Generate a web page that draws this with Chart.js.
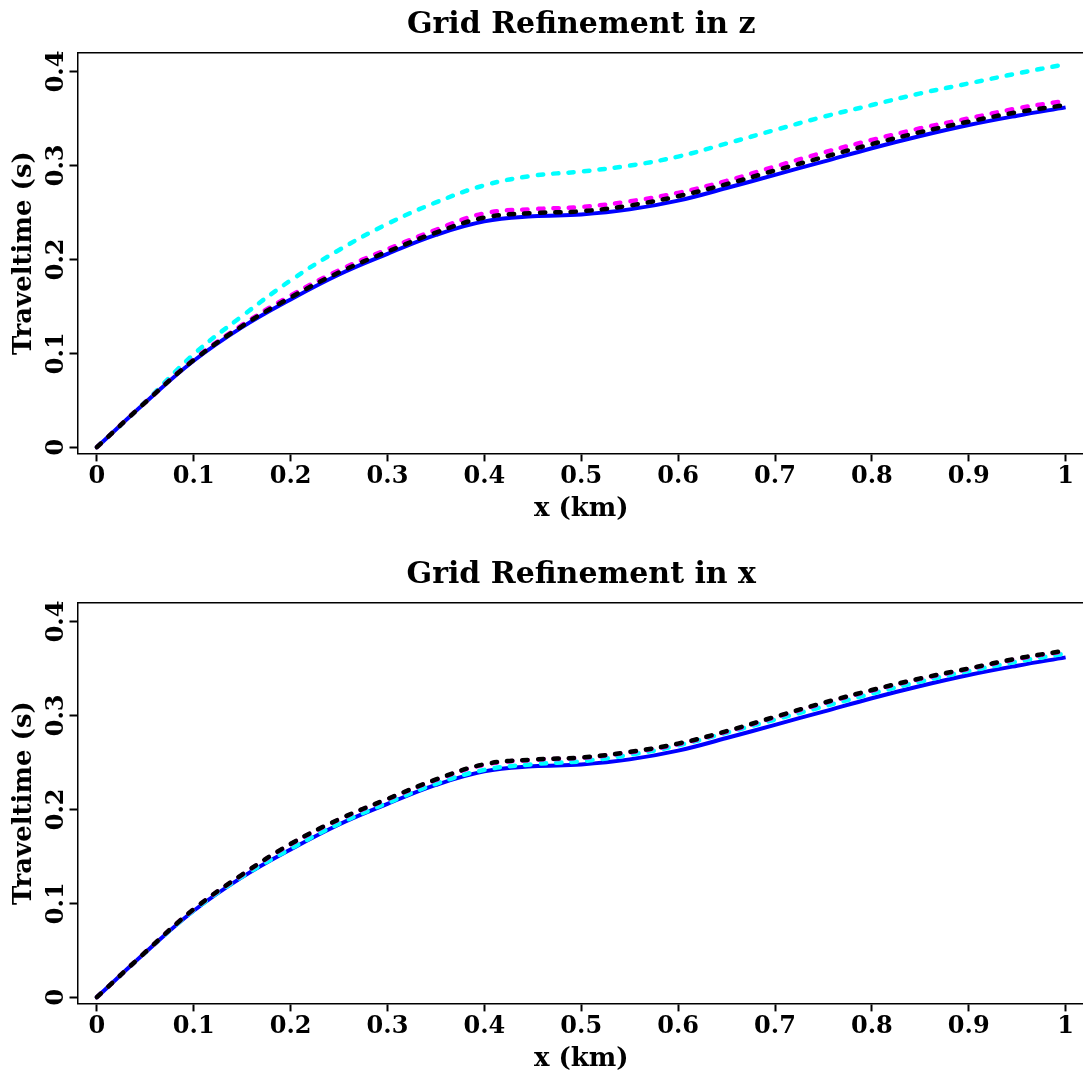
<!DOCTYPE html>
<html><head><meta charset="utf-8">
<script src="https://cdn.jsdelivr.net/npm/chart.js@4.4.1/dist/chart.umd.min.js"></script>
<style>
html,body{margin:0;padding:0;background:#fff;overflow:hidden;width:1083px;height:1073px;}
.box{position:absolute;left:0;width:1090px;height:550px;}
</style></head><body>
<div class="box" style="top:0"><canvas id="c1" width="1090" height="550"></canvas></div>
<div class="box" style="top:550px"><canvas id="c2" width="1090" height="550"></canvas></div>
<script>
// ---- data ----
const xKm = [0, 0.05, 0.1, 0.15, 0.2, 0.25, 0.3, 0.35, 0.4, 0.45, 0.5, 0.55, 0.6, 0.65, 0.7, 0.75, 0.8, 0.85, 0.9, 0.95, 1];

const blueRef   = [0, 0.0475, 0.0920, 0.1278, 0.1573, 0.1839, 0.2058, 0.2260, 0.2404, 0.2458, 0.2478, 0.2532, 0.2625, 0.2759, 0.2900, 0.3041, 0.3183, 0.3313, 0.3430, 0.3529, 0.3618];

const zBlack    = [0, 0.0477, 0.0928, 0.1290, 0.1594, 0.1861, 0.2082, 0.2285, 0.2444, 0.2493, 0.2512, 0.2573, 0.2672, 0.2801, 0.2946, 0.3088, 0.3227, 0.3354, 0.3466, 0.3566, 0.3643];
const zMagenta  = [0, 0.0479, 0.0934, 0.1302, 0.1614, 0.1884, 0.2108, 0.2315, 0.2490, 0.2534, 0.2557, 0.2618, 0.2708, 0.2836, 0.2988, 0.3137, 0.3271, 0.3395, 0.3501, 0.3607, 0.3688];
const zCyan     = [0, 0.0482, 0.0990, 0.1397, 0.1776, 0.2100, 0.2378, 0.2606, 0.2788, 0.2890, 0.2935, 0.2998, 0.3094, 0.3233, 0.3377, 0.3518, 0.3643, 0.3767, 0.3873, 0.3979, 0.4077];

const xBlack    = [0, 0.0479, 0.0937, 0.1306, 0.1632, 0.1895, 0.2111, 0.2318, 0.2480, 0.2530, 0.2552, 0.2612, 0.2700, 0.2832, 0.2985, 0.3134, 0.3270, 0.3394, 0.3500, 0.3606, 0.3690];
const xMagenta  = [0, 0.0479, 0.0935, 0.1303, 0.1628, 0.1891, 0.2107, 0.2313, 0.2476, 0.2526, 0.2548, 0.2607, 0.2695, 0.2827, 0.2980, 0.3129, 0.3265, 0.3389, 0.3495, 0.3601, 0.3685];
const xCyan     = [0, 0.0476, 0.0923, 0.1283, 0.1580, 0.1847, 0.2068, 0.2272, 0.2420, 0.2480, 0.2512, 0.2580, 0.2680, 0.2815, 0.2955, 0.3095, 0.3232, 0.3360, 0.3472, 0.3572, 0.3660];

const xTickValues = [0, 0.1, 0.2, 0.3, 0.4, 0.5, 0.6, 0.7, 0.8, 0.9, 1];
const xTickLabels = ['0', '0.1', '0.2', '0.3', '0.4', '0.5', '0.6', '0.7', '0.8', '0.9', '1'];
const yTickValues = [0, 0.1, 0.2, 0.3, 0.4];
const yTickLabels = ['0', '0.1', '0.2', '0.3', '0.4'];

const titles = ['Grid Refinement in z', 'Grid Refinement in x'];
const xAxisTitle = 'x (km)';
const yAxisTitle = 'Traveltime (s)';

// ---- drawing ----
const FONT = 'DejaVu Serif';
const pts = arr => xKm.map((x, i) => ({x: x, y: arr[i]}));

function dashed(data, color) {
  return {data: pts(data), borderColor: color, borderWidth: 4.5, borderDash: [5.5, 10],
          borderCapStyle: 'round', pointRadius: 0, fill: false, tension: 0.4};
}
function solid(data, color) {
  return {data: pts(data), borderColor: color, borderWidth: 4, pointRadius: 0, fill: false,
          tension: 0.4};
}

function makeChart(id, title, datasets) {
  const tickFont = {family: FONT, size: 24, weight: 'bold'};
  const axisFont = {family: FONT, size: 26, weight: 'bold'};
  new Chart(document.getElementById(id), {
    type: 'line',
    data: {datasets: datasets},
    options: {
      responsive: false, animation: false, devicePixelRatio: 1,
      layout: {padding: {top: 0, left: 0, right: 5, bottom: 25.4}},
      plugins: {
        legend: {display: false}, tooltip: {enabled: false},
        title: {display: true, text: title, fullSize: false, color: '#000',
                font: {family: FONT, size: 30, weight: 'bold'}, padding: {top: 7, bottom: 9.7}}
      },
      scales: {
        x: {
          type: 'linear', position: 'bottom', min: -0.02, max: 1.02,
          afterBuildTicks: s => { s.ticks = xTickValues.map(v => ({value: v})); },
          ticks: {callback: (v, i) => xTickLabels[i], color: '#000', font: tickFont, padding: 1.1,
                  maxRotation: 0, autoSkip: false},
          grid: {drawOnChartArea: false, drawTicks: true, tickLength: 8, tickWidth: 2, tickColor: '#000'},
          border: {display: true, color: '#000', width: 1.5},
          title: {display: true, text: xAxisTitle, color: '#000', font: axisFont, padding: {top: 1, bottom: 0}}
        },
        xTop: {
          type: 'linear', position: 'top', min: -0.02, max: 1.02,
          ticks: {display: false},
          grid: {drawOnChartArea: false, drawTicks: false},
          border: {display: true, color: '#000', width: 1.5}
        },
        y: {
          type: 'linear', position: 'left', min: -0.0066, max: 0.42,
          afterBuildTicks: s => { s.ticks = yTickValues.map(v => ({value: v})); },
          afterFit: s => { s.width = 77.5; },
          ticks: {callback: (v, i) => yTickLabels[i], color: '#000', font: tickFont, padding: -7.75,
                  minRotation: 90, maxRotation: 90, crossAlign: 'center', autoSkip: false},
          grid: {drawOnChartArea: false, drawTicks: true, tickLength: 8, tickWidth: 2, tickColor: '#000'},
          border: {display: true, color: '#000', width: 1.5},
          title: {display: true, text: yAxisTitle, color: '#000', font: axisFont, padding: {top: 8.4, bottom: 0}}
        }
      }
    }
  });
}

makeChart('c1', titles[0], [
  dashed(zBlack, '#000000'),
  dashed(zMagenta, '#ff00ff'),
  dashed(zCyan, '#00ffff'),
  solid(blueRef, '#0000ff')
]);
makeChart('c2', titles[1], [
  dashed(xBlack, '#000000'),
  dashed(xMagenta, '#ff00ff'),
  dashed(xCyan, '#00ffff'),
  solid(blueRef, '#0000ff')
]);
</script>
</body></html>
